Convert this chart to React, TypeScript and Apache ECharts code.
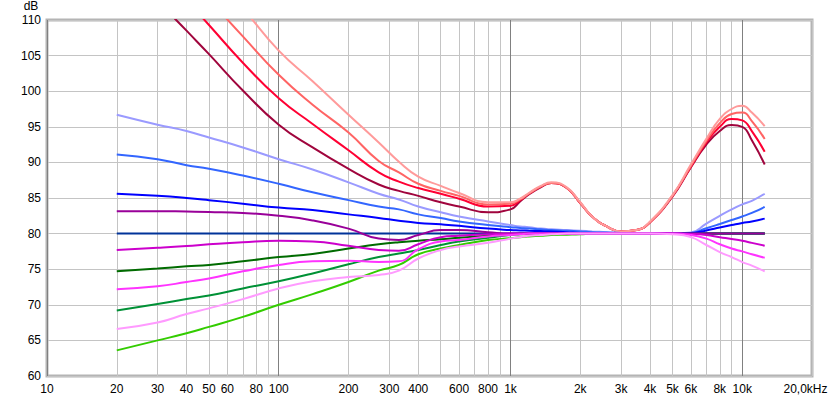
import { useEffect, useRef } from 'react';
import * as echarts from 'echarts';

// Frequencies (Hz) at which each curve was read
const freqs = [20, 30, 40, 50, 70, 100, 140, 200, 270, 330, 400, 500, 600, 800, 1000, 1100, 1200, 1350, 1500, 1750, 2000, 2250, 2600, 3000, 3500, 4000, 5000, 6000, 7000, 8000, 9000, 10000, 11000, 12500];

// dB values per curve
const darkRed = [119.5, 112.8, 108.5, 105.2, 100.1, 95.3, 92.1, 89.1, 86.9, 86.0, 85.3, 84.4, 83.8, 83.0, 83.4, 84.5, 85.5, 86.5, 87.1, 86.4, 84.3, 82.4, 81.0, 80.3, 80.5, 81.6, 85.2, 89.3, 92.5, 94.4, 95.25, 95.0, 93.1, 89.7];
const red = [123.5, 117.3, 112.8, 109.3, 104.0, 99.0, 95.4, 91.7, 88.6, 87.3, 86.4, 85.6, 84.9, 83.8, 83.9, 84.7, 85.6, 86.6, 87.1, 86.4, 84.3, 82.4, 81.0, 80.3, 80.5, 81.6, 85.3, 89.4, 92.8, 95.0, 96.1, 95.9, 94.4, 91.5];
const salmon = [127.0, 120.8, 116.4, 112.9, 107.7, 102.3, 98.1, 94.2, 90.2, 88.6, 87.0, 86.0, 85.3, 84.1, 84.2, 84.8, 85.6, 86.6, 87.1, 86.4, 84.3, 82.4, 81.0, 80.3, 80.5, 81.6, 85.3, 89.5, 93.0, 95.5, 96.8, 97.0, 95.8, 93.3];
const lightSalmon = [130.5, 124.5, 120.2, 116.7, 111.6, 105.7, 101.4, 96.7, 92.8, 90.1, 88.0, 86.7, 85.7, 84.4, 84.4, 84.9, 85.7, 86.7, 87.2, 86.5, 84.4, 82.4, 81.0, 80.3, 80.5, 81.7, 85.4, 89.7, 93.3, 96.1, 97.5, 97.95, 97.0, 95.1];
const lightBlue = [96.7, 95.3, 94.4, 93.5, 92.1, 90.45, 89.0, 87.2, 85.6, 84.8, 83.8, 83.0, 82.4, 81.7, 81.2, 81.0, 80.9, 80.7, 80.6, 80.5, 80.4, 80.3, 80.2, 80.1, 80.05, 80.0, 80.0, 80.15, 81.4, 82.5, 83.4, 84.1, 84.6, 85.6];
const midBlue = [91.1, 90.45, 89.6, 89.1, 88.15, 87.0, 85.8, 84.7, 83.8, 83.4, 82.7, 82.2, 81.7, 81.2, 80.9, 80.8, 80.7, 80.6, 80.5, 80.4, 80.3, 80.2, 80.15, 80.1, 80.05, 80.0, 80.0, 80.1, 80.75, 81.35, 81.9, 82.4, 82.9, 83.75];
const blue = [85.6, 85.3, 85.0, 84.7, 84.2, 83.65, 83.3, 82.7, 82.2, 81.8, 81.5, 81.3, 81.1, 80.7, 80.5, 80.45, 80.4, 80.35, 80.3, 80.2, 80.1, 80.1, 80.05, 80.0, 80.0, 80.0, 80.0, 80.05, 80.45, 80.85, 81.2, 81.5, 81.7, 82.1];
const navy = [80, 80, 80, 80, 80, 80, 80, 80, 80, 80, 80, 80, 80, 80, 80, 80, 80, 80, 80, 80, 80, 80, 80, 80, 80, 80, 80, 80, 80, 80, 80, 80, 80, 80];
const purple = [83.15, 83.15, 83.1, 83.05, 82.9, 82.5, 81.85, 80.7, 79.3, 79.1, 79.8, 80.5, 80.5, 80.2, 80.0, 80, 80, 80, 80, 80, 80, 80, 80, 80, 80, 80, 80, 80, 80, 80, 80, 80, 80, 80];
const darkGreen = [74.7, 75.1, 75.4, 75.6, 76.1, 76.7, 77.15, 77.9, 78.5, 78.8, 79.0, 79.2, 79.4, 79.7, 79.9, 80, 80, 80, 80, 80, 80, 80, 80, 80, 80, 80, 80, 80, 80, 80, 80, 80, 80, 80];
const green = [69.2, 70.1, 70.8, 71.3, 72.3, 73.3, 74.4, 75.7, 76.7, 77.2, 77.7, 78.4, 78.9, 79.4, 79.8, 79.9, 80, 80, 80, 80, 80, 80, 80, 80, 80, 80, 80, 80, 80, 80, 80, 80, 80, 80];
const lime = [63.6, 65.0, 66.0, 66.9, 68.3, 70.0, 71.5, 73.2, 74.8, 75.6, 77.1, 77.9, 78.4, 79.1, 79.35, 79.5, 79.6, 79.7, 79.8, 79.85, 79.9, 80, 80, 80, 80, 80, 80, 80, 80, 80, 80, 80, 80, 80];
const magenta = [77.7, 78.0, 78.25, 78.5, 78.8, 79.0, 78.9, 78.3, 77.7, 77.6, 78.5, 79.5, 79.7, 79.9, 80.0, 80, 80, 80, 80, 80, 80, 80, 80, 80, 80, 80, 80, 79.95, 79.8, 79.5, 79.25, 79.0, 78.7, 78.3];
const pinkMagenta = [72.2, 72.6, 73.2, 73.7, 74.7, 75.6, 76.1, 76.2, 76.0, 76.1, 77.8, 78.9, 79.1, 79.6, 79.8, 79.9, 80, 80, 80, 80, 80, 80, 80, 80, 80, 80, 80, 79.8, 79.3, 78.5, 77.9, 77.5, 77.1, 76.6];
const lightPink = [66.6, 67.5, 68.7, 69.5, 70.8, 72.3, 73.3, 73.9, 74.2, 74.8, 76.5, 77.7, 78.2, 78.7, 79.3, 79.5, 79.7, 79.8, 79.9, 80, 80, 80, 80, 80, 80, 80, 79.9, 79.5, 78.4, 77.4, 76.7, 76.0, 75.5, 74.7];

// Drawing order (later on top)
const seriesList: [string, number[]][] = [
  ['#a0053d', darkRed],
  ['#ff0033', red],
  ['#ff6464', salmon],
  ['#ff9a9a', lightSalmon],
  ['#006b00', darkGreen],
  ['#009136', green],
  ['#33cc00', lime],
  ['#9a9aff', lightBlue],
  ['#3366ff', midBlue],
  ['#0000ff', blue],
  ['#003399', navy],
  ['#990099', purple],
  ['#cc00cc', magenta],
  ['#ff33ff', pinkMagenta],
  ['#ff9aff', lightPink],
];

// Axis definitions
const gridFreqs = [10, 20, 30, 40, 50, 60, 70, 80, 90, 100, 200, 300, 400, 500, 600, 700, 800, 900, 1000, 2000, 3000, 4000, 5000, 6000, 7000, 8000, 9000, 10000, 20000];
const labelFreqs = [10, 20, 30, 40, 50, 60, 80, 100, 200, 300, 400, 600, 800, 1000, 2000, 3000, 4000, 5000, 6000, 8000, 10000, 20000];
const labelTexts = ['10', '20', '30', '40', '50', '60', '80', '100', '200', '300', '400', '600', '800', '1k', '2k', '3k', '4k', '5k', '6k', '8k', '10k', '20,0kHz'];
const yMin = 60;
const yMax = 110;
const yStep = 5;

const FONT = 'Liberation Sans, Arial, sans-serif';

export default function App() {
  const ref = useRef<HTMLDivElement>(null);
  useEffect(() => {
    document.body.style.margin = '0';
    const chart = echarts.init(ref.current!, undefined, { renderer: 'svg' });
    const lineColors = ['#808080', '#c4c4c4', '#c4c4c4', '#c4c4c4', '#c4c4c4', '#c4c4c4', '#c4c4c4', '#c4c4c4', '#c4c4c4'];
    chart.setOption({
      animation: false,
      backgroundColor: '#ffffff',
      grid: {
        left: 47,
        right: 23,
        top: 16,
        bottom: 21,
        show: true,
        borderColor: '#b4b4b4',
        borderWidth: 3,
        backgroundColor: '#ffffff',
      },
      xAxis: {
        type: 'value',
        min: 1,
        max: Math.log10(20000),
        axisLine: { show: false },
        axisTick: { show: false, customValues: gridFreqs.map((f) => Math.log10(f)) },
        splitLine: { show: true, lineStyle: { color: lineColors, width: 1 } },
        axisLabel: {
          customValues: labelFreqs.map((f) => Math.log10(f)),
          margin: 7,
          fontSize: 12,
          color: '#000',
          fontFamily: FONT,
          formatter: (v: number) => {
            let best = 0;
            for (let i = 0; i < labelFreqs.length; i++) {
              if (Math.abs(Math.log10(labelFreqs[i]) - v) < Math.abs(Math.log10(labelFreqs[best]) - v)) best = i;
            }
            if (best === labelFreqs.length - 1) return '{last|' + labelTexts[best] + '}';
            return labelTexts[best];
          },
          rich: {
            last: { padding: [0, 13, 0, 0], fontSize: 12, color: '#000', fontFamily: FONT },
          },
        },
      },
      yAxis: {
        type: 'value',
        min: yMin,
        max: yMax,
        interval: yStep,
        name: 'dB',
        nameLocation: 'end',
        nameGap: 8,
        nameTextStyle: { fontSize: 12, color: '#000', fontFamily: FONT, padding: [0, 32, 0, 0], lineHeight: 12 },
        axisLine: { show: false },
        axisTick: { show: false },
        splitLine: { show: true, lineStyle: { color: '#c4c4c4', width: 1 } },
        axisLabel: { margin: 6, fontSize: 12, color: '#000', fontFamily: FONT },
      },
      series: seriesList.map(([color, vals]) => ({
        type: 'line',
        data: freqs.map((f, i) => [Math.log10(f), vals[i]]),
        symbol: 'none',
        smooth: 0.5,
        clip: true,
        lineStyle: { color, width: 2 },
        emphasis: { disabled: true },
      })),
    });
    return () => chart.dispose();
  }, []);
  return <div ref={ref} style={{ width: 835, height: 397 }} />;
}
